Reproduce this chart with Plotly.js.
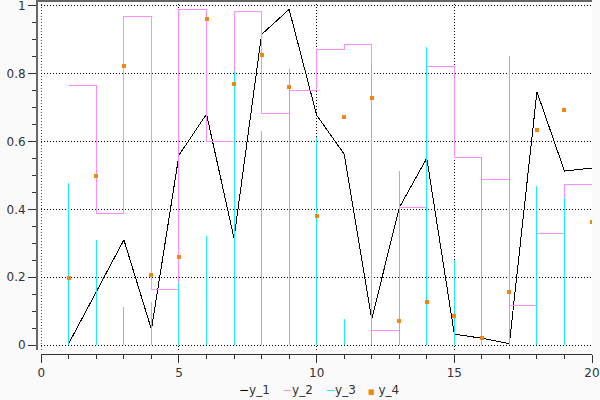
<!DOCTYPE html>
<html>
<head>
<meta charset="utf-8">
<script src="https://cdn.plot.ly/plotly-3.0.1.min.js"></script>
<style>html,body{margin:0;padding:0;background:#fafafa;}#chart{width:600px;height:400px;}
#chart svg path{shape-rendering:crispEdges;}</style>
</head>
<body>
<div id="chart"></div>
<script>
var xs = [1,2,3,4,5,6,7,8,9,10,11,12,13,14,15,16,17,18,19,20];
var y1 = [0.005,0.157,0.31,0.046,0.56,0.681,0.315,0.916,0.99,0.678,0.563,0.076,0.405,0.551,0.032,0.02,0.004,0.747,0.513,0.522];
var y2 = [0.766,0.388,0.970,0.165,0.990,0.601,0.983,0.683,0.752,0.872,0.887,0.043,0.406,0.822,0.552,0.489,0.117,0.330,0.474,0.474];
var y3 = [0.477,0.310,0.113,0.127,0.182,0.322,0.808,0.631,0.814,0.613,0.077,0.833,0.513,0.879,0.251,0.555,0.853,0.469,0.433,0.596];
var y4 = [0.197,0.500,0.822,0.206,0.259,0.961,0.769,0.855,0.760,0.380,0.672,0.728,0.070,0.126,0.085,0.020,0.155,0.633,0.692,0.362];
var names = ['y_1','y_2','y_3','y_4'];
var colors = ['#000000','#ff8cff','#1eeef4','#ee8811'];
var xTicks = [0,5,10,15,20];
var yTicks = [0,0.2,0.4,0.6,0.8,1];

// stems for y_3
var sx = [], sy = [];
for (var i = 0; i < xs.length; i++) { sx.push(xs[i], xs[i], null); sy.push(0, y3[i], null); }

var traces = [
  {x: xs, y: y1, name: names[0], mode: 'lines', line: {color: colors[0], width: 1}},
  {x: xs, y: y2, name: names[1], mode: 'lines', line: {color: colors[1], width: 1, shape: 'hv'}},
  {x: sx, y: sy, name: names[2], mode: 'lines', line: {color: colors[2], width: 1}},
  {x: xs, y: y4, name: names[3], mode: 'markers', marker: {color: colors[3], size: 4, symbol: 'square'}}
];

var fnt = {family: 'DejaVu Sans, sans-serif', size: 12, color: '#333'};
var W = 555, H = 353;
var YR = [-0.0147, 1.0147];
var DOT = '1px,2px';
var layout = {
  width: 600, height: 400,
  margin: {l: 37, r: 8, t: 1, b: 46, pad: 0},
  paper_bgcolor: '#fafafa', plot_bgcolor: '#ffffff',
  font: fnt,
  showlegend: false,
  xaxis: {
    domain: [4.3 / W, 1], range: [0, 20], anchor: 'free', position: 0,
    showline: true, linecolor: '#333', linewidth: 1,
    ticks: 'outside', ticklen: 8, tickcolor: '#333', tickwidth: 1,
    tickvals: xTicks, ticktext: xTicks.map(String),
    minor: {dtick: 1, ticks: 'outside', ticklen: 4, tickcolor: '#333', showgrid: false},
    showgrid: true, gridcolor: '#000', griddash: DOT, gridwidth: 1,
    zeroline: false, ticklabeloverflow: 'allow'
  },
  yaxis: {
    domain: [4 / H, 1], range: YR, anchor: 'free', position: 0,
    showline: true, linecolor: '#666', linewidth: 2,
    ticks: 'outside', ticklen: 8, tickcolor: '#333', tickwidth: 1,
    tickvals: yTicks, ticktext: yTicks.map(String),
    minor: {dtick: 0.05, ticks: 'outside', ticklen: 4, tickcolor: '#333', showgrid: false},
    showgrid: true, gridcolor: '#000', griddash: DOT, gridwidth: 1,
    zeroline: false, ticklabeloverflow: 'allow'
  },
  shapes: [
    {type: 'line', xref: 'paper', yref: 'paper', x0: -1 / W, x1: 1, y0: 1, y1: 1,
     line: {color: '#666', width: 2}},
    {type: 'line', xref: 'x', yref: 'y', x0: 0, x1: 0, y0: YR[0], y1: YR[1], layer: 'below',
     line: {color: '#000', width: 1, dash: DOT}},
    {type: 'line', xref: 'x', yref: 'y', x0: 20, x1: 20, y0: YR[0], y1: YR[1], layer: 'below',
     line: {color: '#000', width: 1, dash: DOT}}
  ],
  annotations: []
};

// legend built as text annotations
var legX = [237, 280, 323, 366];
for (var k = 0; k < 4; k++) {
  var sym = k < 3 ? '<span style="color:' + colors[k] + '">\u2212</span>'
                  : '<span style="color:' + colors[k] + ';font-size:7px">\u25A0</span> ';
  layout.annotations.push({
    xref: 'paper', yref: 'paper',
    x: (legX[k] - 37) / W, y: (354 - 390) / H,
    xanchor: 'left', yanchor: 'middle', showarrow: false,
    text: sym + names[k], font: fnt
  });
}

Plotly.newPlot('chart', traces, layout, {displayModeBar: false, staticPlot: true});
</script>
</body>
</html>
